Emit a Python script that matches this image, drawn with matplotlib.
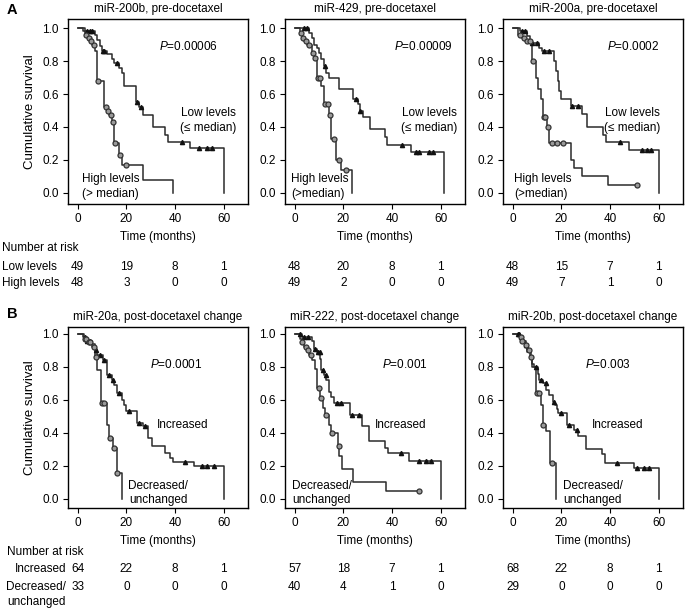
import matplotlib
matplotlib.use('Agg')
import matplotlib.pyplot as plt
import numpy as np
from matplotlib.transforms import blended_transform_factory

plt.rcParams.update({
    'font.family': ['Liberation Sans', 'DejaVu Sans'], 'font.size': 8.5,
    'mathtext.fontset': 'custom', 'mathtext.it': 'Liberation Sans:italic',
    'mathtext.rm': 'Liberation Sans',
    'axes.linewidth': 1.0, 'xtick.major.size': 3.5, 'ytick.major.size': 3.5,
    'xtick.major.pad': 3, 'ytick.major.pad': 3,
})

# ---- data ----
RISK_TIMES = [0, 20, 40, 60]

titles = ['miR-200b, pre-docetaxel', 'miR-429, pre-docetaxel', 'miR-200a, pre-docetaxel',
          'miR-20a, post-docetaxel change', 'miR-222, post-docetaxel change',
          'miR-20b, post-docetaxel change']
p_values = ['0.00006', '0.00009', '0.0002', '0.0001', '0.001', '0.003']

# A1 miR-200b
a1_low_t = [0, 3, 7, 8, 9, 10, 12, 14, 15, 17, 18, 19, 24, 25, 27, 31, 36, 37, 46, 60]
a1_low_s = [1.0, 0.98, 0.96, 0.93, 0.89, 0.86, 0.84, 0.81, 0.79, 0.76, 0.73, 0.65, 0.55, 0.52,
            0.47, 0.40, 0.35, 0.31, 0.27, 0.0]
a1_low_c = [4, 5, 6, 10.5, 11, 16, 24.5, 26, 43, 50, 53, 55]
a1_high_t = [0, 2, 3, 4, 5, 6, 7, 8, 11, 12, 13, 14, 15, 17, 18, 27, 39]
a1_high_s = [1.0, 0.98, 0.96, 0.94, 0.92, 0.90, 0.86, 0.68, 0.52, 0.50, 0.47, 0.43, 0.30,
             0.23, 0.17, 0.08, 0.0]
a1_high_c = [3.5, 4.5, 5.5, 6.5, 8.5, 11.5, 12.5, 13.5, 14.5, 15.5, 17.5, 20]

# A2 miR-429
a2_low_t = [0, 6, 7, 8, 9, 10, 11, 12, 13, 14, 18, 24, 26, 27, 28, 31, 37, 38, 48, 61.5]
a2_low_s = [1.0, 0.97, 0.94, 0.90, 0.88, 0.85, 0.81, 0.77, 0.73, 0.70, 0.63, 0.57, 0.54, 0.50,
            0.46, 0.39, 0.34, 0.29, 0.25, 0.0]
a2_low_c = [4, 5, 12.5, 25, 27, 44, 50, 51, 55, 57]
a2_high_t = [0, 2, 3, 4, 5, 7, 8, 9, 11, 12, 14, 15, 17, 19, 23.5]
a2_high_s = [1.0, 0.97, 0.94, 0.92, 0.90, 0.85, 0.82, 0.70, 0.65, 0.54, 0.47, 0.33, 0.20,
             0.14, 0.0]
a2_high_c = [2.5, 3.5, 4.5, 6, 7.5, 8.5, 9.5, 10.5, 12.5, 13.5, 14.5, 16, 18, 21]

# A3 miR-200a
a3_low_t = [0, 3, 6, 7, 11, 12, 17, 17.7, 18.5, 19.2, 20, 24, 28.4, 30.6, 37, 38.4, 48, 60]
a3_low_s = [1.0, 0.98, 0.95, 0.91, 0.88, 0.86, 0.80, 0.74, 0.68, 0.62, 0.57, 0.53, 0.48,
            0.40, 0.35, 0.31, 0.26, 0.0]
a3_low_c = [4, 5, 8, 10, 13, 15, 24.5, 27, 44, 53, 55, 57]
a3_high_t = [0, 2, 4, 5, 8, 9.5, 10.5, 11.5, 12.5, 14, 15, 24, 25, 28.5, 39]
a3_high_s = [1.0, 0.96, 0.94, 0.92, 0.80, 0.70, 0.63, 0.57, 0.46, 0.40, 0.30, 0.20, 0.15,
             0.10, 0.05]
a3_high_c = [3, 4.5, 6, 7, 8.5, 12.7, 13.2, 14.5, 16, 18, 20.5, 51]

# B1 miR-20a
b1_inc_t = [0, 2, 4, 6, 7, 8, 10.5, 12, 14, 15, 16, 18, 19, 20, 24.5, 27, 29, 30.5, 36, 38,
            39, 48, 60]
b1_inc_s = [1.0, 0.98, 0.96, 0.94, 0.90, 0.87, 0.845, 0.75, 0.72, 0.69, 0.64, 0.60, 0.57,
            0.53, 0.46, 0.44, 0.37, 0.32, 0.28, 0.25, 0.225, 0.20, 0.0]
b1_inc_c = [3, 4, 5, 7.5, 9, 11, 13, 14.5, 17, 21, 25, 27.5, 44, 51, 53, 56]
b1_dec_t = [0, 2.5, 4, 6, 7, 8, 9.5, 12, 13, 14.5, 16, 18]
b1_dec_s = [1.0, 0.97, 0.95, 0.92, 0.86, 0.78, 0.58, 0.45, 0.37, 0.31, 0.16, 0.0]
b1_dec_c = [3, 3.5, 4.5, 5, 6.5, 7.5, 10, 11, 13.2, 14.8, 16.3]

# B2 miR-222
b2_inc_t = [0, 3, 7, 8, 9, 10.4, 11, 11.9, 13, 14, 15, 16, 22.6, 27.6, 30.4, 37, 38.3, 47, 60]
b2_inc_s = [1.0, 0.98, 0.96, 0.91, 0.89, 0.85, 0.78, 0.75, 0.72, 0.65, 0.62, 0.58, 0.51,
            0.44, 0.35, 0.31, 0.28, 0.23, 0.0]
b2_inc_c = [2, 4, 5.5, 8.5, 9.5, 10.2, 11.8, 12.8, 17.5, 19, 23.5, 26.5, 43.5, 51, 54, 56]
b2_dec_t = [0, 2, 3, 4, 5, 6, 7, 8.3, 9, 10.5, 11.5, 12.6, 14, 15.1, 17.6, 18.3, 19.3, 24, 37.6]
b2_dec_s = [1.0, 0.97, 0.95, 0.92, 0.90, 0.87, 0.84, 0.79, 0.67, 0.61, 0.55, 0.51, 0.45, 0.40,
            0.32, 0.26, 0.18, 0.10, 0.05]
b2_dec_c = [3, 4.5, 5.5, 6.5, 10, 11, 12.8, 15.5, 18, 51]

# B3 miR-20b
b3_inc_t = [0, 3, 4, 5.3, 6, 7.4, 8, 8.8, 10.2, 11, 12.4, 13.8, 15, 16.6, 17.5, 18, 18.8, 22.3,
            25.2, 27, 30.1, 36.5, 38, 50, 60]
b3_inc_s = [1.0, 0.98, 0.96, 0.93, 0.89, 0.86, 0.82, 0.80, 0.76, 0.72, 0.70, 0.66, 0.63, 0.59,
            0.57, 0.545, 0.52, 0.45, 0.42, 0.38, 0.30, 0.27, 0.22, 0.19, 0.0]
b3_inc_c = [2, 2.5, 3.5, 5.5, 9.5, 11.5, 13.5, 17, 20, 23, 26.5, 43, 51, 54, 56]
b3_dec_t = [0, 3, 4, 5, 6, 7, 8.1, 9.5, 11.7, 12.4, 13.8, 15.2, 17.6]
b3_dec_s = [1.0, 0.98, 0.96, 0.93, 0.90, 0.86, 0.80, 0.64, 0.57, 0.45, 0.41, 0.22, 0.0]
b3_dec_c = [3.5, 4, 5.5, 6.5, 7.5, 10, 11, 12.6, 16.3]

a1_risk_low, a1_risk_high = [49, 19, 8, 1], [48, 3, 0, 0]
a2_risk_low, a2_risk_high = [48, 20, 8, 1], [49, 2, 0, 0]
a3_risk_low, a3_risk_high = [48, 15, 7, 1], [49, 7, 1, 0]
b1_risk_inc, b1_risk_dec = [64, 22, 8, 1], [33, 0, 0, 0]
b2_risk_inc, b2_risk_dec = [57, 18, 7, 1], [40, 4, 1, 0]
b3_risk_inc, b3_risk_dec = [68, 22, 8, 1], [29, 0, 0, 0]

LINE = '#2b2b2b'
W, H = 685, 608


def km(ax, t, s, cens, kind):
    t = np.asarray(t, float)
    s = np.asarray(s, float)
    cens = np.asarray(cens, float)
    end = max(t[-1], cens.max())
    ax.step(np.append(t, end), np.append(s, s[-1]), where='post', color=LINE, lw=1.1)
    cy = s[np.searchsorted(t, cens, side='right') - 1]
    if kind == 'tri':
        ax.plot(cens, cy, ls='none', marker='^', ms=3.0, color='#111111', zorder=3)
    else:
        ax.plot(cens, cy, ls='none', marker='o', ms=3.6, mfc='#9a9a9a', mec='#333333',
                mew=0.9, zorder=3)


def panel_axes(fig, col, row):
    lefts = [68, 285, 503]
    tops, heights = [19, 327], [185, 181]
    l = lefts[col] / W
    b = 1 - (tops[row] + heights[row]) / H
    ax = fig.add_axes([l, b, 180 / W, heights[row] / H])
    ax.set_xlim(-4, 70)
    ax.set_ylim((-0.067, 1.055) if row == 0 else (-0.055, 1.042))
    ax.set_xticks([0, 20, 40, 60])
    ax.set_yticks([0, 0.2, 0.4, 0.6, 0.8, 1.0])
    ax.set_yticklabels(['0.0', '0.2', '0.4', '0.6', '0.8', '1.0'])
    ax.set_xlabel('Time (months)', labelpad=4)
    if col == 0:
        ax.set_ylabel('Cumulative survival', fontsize=9.5, labelpad=5)
    return ax


def risk_row(fig, ax, values, ypx):
    tr = blended_transform_factory(ax.transData, fig.transFigure)
    for x, v in zip(RISK_TIMES, values):
        ax.text(x, 1 - ypx / H, str(v), transform=tr, ha='center', va='center',
                clip_on=False)


fig = plt.figure(figsize=(W / 100, H / 100), dpi=100)

panels_a = [
    (a1_low_t, a1_low_s, a1_low_c, a1_high_t, a1_high_s, a1_high_c, a1_risk_low, a1_risk_high),
    (a2_low_t, a2_low_s, a2_low_c, a2_high_t, a2_high_s, a2_high_c, a2_risk_low, a2_risk_high),
    (a3_low_t, a3_low_s, a3_low_c, a3_high_t, a3_high_s, a3_high_c, a3_risk_low, a3_risk_high),
]
panels_b = [
    (b1_inc_t, b1_inc_s, b1_inc_c, b1_dec_t, b1_dec_s, b1_dec_c, b1_risk_inc, b1_risk_dec),
    (b2_inc_t, b2_inc_s, b2_inc_c, b2_dec_t, b2_dec_s, b2_dec_c, b2_risk_inc, b2_risk_dec),
    (b3_inc_t, b3_inc_s, b3_inc_c, b3_dec_t, b3_dec_s, b3_dec_c, b3_risk_inc, b3_risk_dec),
]

# text positions in axes fraction
p_pos_a = [0.67, 0.77, 0.72]
p_pos_b = [0.60, 0.667, 0.584]
low_lbl = [(0.78, '(\u2264 median)'), (0.80, '(\u2264 median)'), (0.72, '(\u2264 median)')]
high_lbl = [(0.076, '(> median)'), (0.032, '(>median)'), (0.063, '(>median)')]
inc_x = [0.635, 0.644, 0.635]
dec_lbl = [(0.50, 'center'), (0.039, 'left'), (0.335, 'left')]

for col, d in enumerate(panels_a):
    ax = panel_axes(fig, col, 0)
    km(ax, d[0], d[1], d[2], 'tri')
    km(ax, d[3], d[4], d[5], 'circ')
    ax.set_title(titles[col], fontsize=8.5, pad=5)
    ax.text(p_pos_a[col], 0.85, r'$P$=' + p_values[col], transform=ax.transAxes,
            ha='center', va='center')
    ax.text(low_lbl[col][0], 0.45, 'Low levels\n' + low_lbl[col][1], transform=ax.transAxes,
            ha='center', va='center', linespacing=1.3)
    ax.text(high_lbl[col][0], 0.095, 'High levels\n' + high_lbl[col][1],
            transform=ax.transAxes, ha='left', va='center', linespacing=1.3)
    risk_row(fig, ax, d[6], 267)
    risk_row(fig, ax, d[7], 283)
    if col == 0:
        fig.text(2 / W, 1 - 248 / H, 'Number at risk', ha='left', va='center')
        fig.text(2 / W, 1 - 267 / H, 'Low levels', ha='left', va='center')
        fig.text(2 / W, 1 - 283 / H, 'High levels', ha='left', va='center')

for col, d in enumerate(panels_b):
    ax = panel_axes(fig, col, 1)
    km(ax, d[0], d[1], d[2], 'tri')
    km(ax, d[3], d[4], d[5], 'circ')
    ax.set_title(titles[3 + col], fontsize=8.5, pad=5)
    ax.text(p_pos_b[col], 0.795, r'$P$=' + p_values[3 + col], transform=ax.transAxes,
            ha='center', va='center')
    ax.text(inc_x[col], 0.459, 'Increased', transform=ax.transAxes,
            ha='center', va='center')
    ax.text(dec_lbl[col][0], 0.081, 'Decreased/\nunchanged', transform=ax.transAxes,
            ha=dec_lbl[col][1], va='center', linespacing=1.2)
    risk_row(fig, ax, d[6], 569)
    risk_row(fig, ax, d[7], 587)
    if col == 0:
        fig.text(7 / W, 1 - 552 / H, 'Number at risk', ha='left', va='center')
        fig.text(66 / W, 1 - 569 / H, 'Increased', ha='right', va='center')
        fig.text(66 / W, 1 - 587 / H, 'Decreased/', ha='right', va='center')
        fig.text(66 / W, 1 - 602 / H, 'unchanged', ha='right', va='center')

fig.text(12 / W, 1 - 10 / H, 'A', ha='center', va='center', fontsize=10.5, fontweight='bold')
fig.text(12 / W, 1 - 314 / H, 'B', ha='center', va='center', fontsize=10.5, fontweight='bold')

fig.savefig('out.png', dpi=100)
